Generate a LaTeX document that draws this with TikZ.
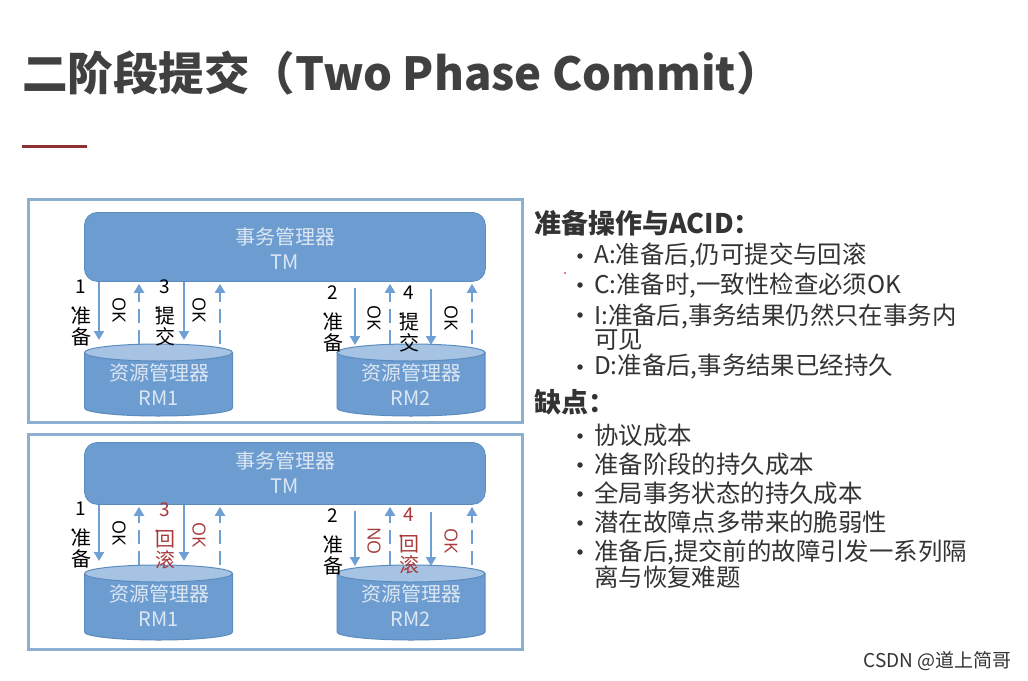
\documentclass[tikz,border=0pt]{standalone}
\usepackage{fontspec}
\usetikzlibrary{arrows.meta,calc}
\setmainfont{Open Sans}
\newfontfamily\cjk{Noto Sans CJK SC}
\definecolor{boxblue}{HTML}{6C9CD0}
\definecolor{boxedge}{HTML}{5C8CBE}
\definecolor{topblue}{HTML}{A6C3E4}
\definecolor{panelblue}{HTML}{8DAFCF}
\definecolor{boxtext}{HTML}{DCE7F3}
\definecolor{inktext}{HTML}{333333}
\definecolor{redtext}{HTML}{A83A3C}
\definecolor{titlegrey}{HTML}{404040}
\definecolor{arrowblue}{HTML}{6F9FD3}
\tikzset{
  panelbox/.style={draw=panelblue,line width=3pt,fill=white},
  tmbox/.style={draw=boxedge,line width=.8pt,fill=boxblue,rounded corners=13pt,inner sep=0pt},
  rmfoot/.style={inner sep=0pt,outer sep=0pt,minimum width=148pt},
  rmbody/.style={draw=boxedge,line width=1pt,fill=boxblue},
  rmtop/.style={draw=boxedge,line width=1pt,fill=topblue},
  boxlabel/.style={text=boxtext,align=center,font=\cjk\fontsize{20}{25}\selectfont,inner sep=0pt},
  solidarrow/.style={draw=arrowblue,line width=2.2pt,-{Triangle[length=9pt,width=10pt]}},
  dasharrow/.style={draw=arrowblue,line width=2.2pt,dash pattern=on 14pt off 7pt,-{Triangle[length=9pt,width=10pt]}},
  oklabel/.style={rotate=-90,font=\fontsize{18}{18}\selectfont,inner sep=0pt},
  steplabel/.style={align=center,font=\cjk\fontsize{20}{22}\selectfont,inner sep=0pt},
  titletext/.style={anchor=west,text=titlegrey,inner sep=0pt,font=\cjk\bfseries\fontsize{45.5}{50}\selectfont},
  headtext/.style={anchor=west,text=inktext,inner sep=0pt,font=\cjk\bfseries\fontsize{27}{30}\selectfont},
  itemtext/.style={anchor=west,text=inktext,inner sep=0pt,align=left,font=\cjk\fontsize{24.4}{24.5}\selectfont},
  bulletmark/.style={circle,fill=inktext,inner sep=0pt,minimum size=5.5pt},
}
\newcommand{\cylinderat}[3]{
  \node[rmfoot,minimum height=#3 pt,anchor=north] (#1) at (#2) {};
  \path[rmbody] (#1.north west) ++(0,-8.5pt) -- ($(#1.south west)+(0,8pt)$) arc[start angle=180,end angle=360,x radius=74pt,y radius=8pt] -- ($(#1.north east)+(0,-8.5pt)$) -- cycle;
  \path[rmtop] ($(#1.north)+(0,-8.5pt)$) ellipse[x radius=74pt,y radius=8.5pt];
}
\newcommand{\panelset}[8]{
  \node[panelbox,minimum width=494pt,minimum height={#3-#2},anchor=north west,inner sep=0pt] (#1frame) at (27,#2) {};
  \node[tmbox,minimum width=401pt,minimum height={#5-#4},anchor=north west] (#1tm) at (84,#4) {};
  \node[boxlabel] (#1tmtext) at (285,#8) {事务管理器\\[0pt]TM};
  \cylinderat{#1rma}{158.5,#6}{#7}
  \cylinderat{#1rmb}{411,#6}{#7}
  \node[boxlabel] (#1rmatext) at (159,{#6+41}) {资源管理器\\[0pt]RM1};
  \node[boxlabel] (#1rmbtext) at (411,{#6+41}) {资源管理器\\[0pt]RM2};
  \coordinate (#1xa) at (99,0);
  \coordinate (#1xb) at (139,0);
  \coordinate (#1xc) at (184,0);
  \coordinate (#1xd) at (220,0);
  \coordinate (#1xe) at (355,0);
  \coordinate (#1xf) at (390,0);
  \coordinate (#1xg) at (431,0);
  \coordinate (#1xh) at (472,0);
  \draw[solidarrow,shorten >=4pt] (#1xa |- #1tm.south) -- (#1xa |- #1rma.north);
  \draw[solidarrow,shorten >=4pt] (#1xc |- #1tm.south) -- (#1xc |- #1rma.north);
  \draw[solidarrow,shorten <=6pt,shorten >=-1pt] (#1xe |- #1tm.south) -- (#1xe |- #1rmb.north);
  \draw[solidarrow,shorten <=7pt,shorten >=-1pt] (#1xg |- #1tm.south) -- (#1xg |- #1rmb.north);
  \draw[dasharrow,shorten >=2pt] (#1xb |- #1rma.north) -- (#1xb |- #1tm.south);
  \draw[dasharrow,shorten >=2pt] (#1xd |- #1rma.north) -- (#1xd |- #1tm.south);
  \draw[dasharrow,shorten >=2pt] (#1xf |- #1rmb.north) -- (#1xf |- #1tm.south);
  \draw[dasharrow,shorten >=2pt] (#1xh |- #1rmb.north) -- (#1xh |- #1tm.south);
}
\newcommand{\stacklabel}[5]{\node[steplabel,text=#1,anchor=north] (#2) at (#3) {\fontsize{19}{19}\selectfont #4\\[-6pt]\hspace*{-15pt}.\\[-8pt]\fontsize{20}{22}\selectfont #5};}
\begin{document}
\begin{tikzpicture}[x=1pt,y=-1pt]
\useasboundingbox (0,0) rectangle (1028,680);
\fill[white] (0,0) rectangle (1028,680);
\node[titletext] (title) at (22,73) {二阶段提交（Two Phase Commit）};
\node[fill=redtext!85!black,minimum width=65pt,minimum height=3pt,inner sep=0pt,anchor=west] (rule) at (22,146) {};

\panelset{a}{198}{421}{212}{281}{344}{72}{248.5}
\panelset{b}{433}{648}{442}{504}{565}{75}{473}

% upper panel labels
\stacklabel{black}{a1}{81,280}{1}{准\\[-1pt]备}
\stacklabel{black}{a2}{165,280}{3}{提\\[-1pt]交}
\stacklabel{black}{a3}{333,286}{2}{准\\[-1pt]备}
\stacklabel{black}{a4}{409,286}{4}{提\\[-1pt]交}
\node[oklabel] (aok1) at (119,310) {OK};
\node[oklabel] (aok2) at (199,310) {OK};
\node[oklabel] (aok3) at (374,318) {OK};
\node[oklabel] (aok4) at (451,318) {OK};

% lower panel labels
\stacklabel{black}{b1}{81,502}{1}{准\\[-1pt]备}
\stacklabel{redtext}{b2}{165,502}{3}{回\\[-1pt]滚}
\stacklabel{black}{b3}{333,508}{2}{准\\[-1pt]备}
\stacklabel{redtext}{b4}{409,508}{4}{回\\[-1pt]滚}
\node[oklabel] (bok1) at (119,533) {OK};
\node[oklabel,text=redtext] (bok2) at (199,535) {OK};
\node[oklabel,text=redtext] (bok3) at (374,541) {NO};
\node[oklabel,text=redtext] (bok4) at (451,541) {OK};

% right column
\node[headtext] (h1) at (534,223) {准备操作与ACID：};
\node[bulletmark] (d1) at (580,256) {};
\node[itemtext] (t1) at (594,255) {A:准备后,仍可提交与回滚};
\node[bulletmark] (d2) at (580,285) {};
\node[itemtext] (t2) at (594,285) {C:准备时,一致性检查必须OK};
\node[bulletmark] (d3) at (580,315) {};
\node[itemtext] (t3) at (594,327) {I:准备后,事务结果仍然只在事务内\\可见};
\node[bulletmark] (d4) at (580,367) {};
\node[itemtext] (t4) at (594,367) {D:准备后,事务结果已经持久};
\node[headtext] (h2) at (534,402) {缺点：};
\node[bulletmark] (d5) at (580,436) {};
\node[itemtext] (t5) at (594,435) {协议成本};
\node[bulletmark] (d6) at (580,465) {};
\node[itemtext] (t6) at (594,464) {准备阶段的持久成本};
\node[bulletmark] (d7) at (580,494) {};
\node[itemtext] (t7) at (594,493) {全局事务状态的持久成本};
\node[bulletmark] (d8) at (580,523) {};
\node[itemtext] (t8) at (594,522) {潜在故障点多带来的脆弱性};
\node[bulletmark] (d9) at (580,552) {};
\node[itemtext] (t9) at (594,564) {准备后,提交前的故障引发一系列隔\\离与恢复难题};
\node[circle,fill=red!80!black,inner sep=0pt,minimum size=1.8pt] (spot) at (565,273) {};
\node[anchor=east,inner sep=0pt,text=inktext,font=\cjk\fontsize{19}{20}\selectfont] (credit) at (1012,661) {CSDN @道上简哥};
\end{tikzpicture}
\end{document}
